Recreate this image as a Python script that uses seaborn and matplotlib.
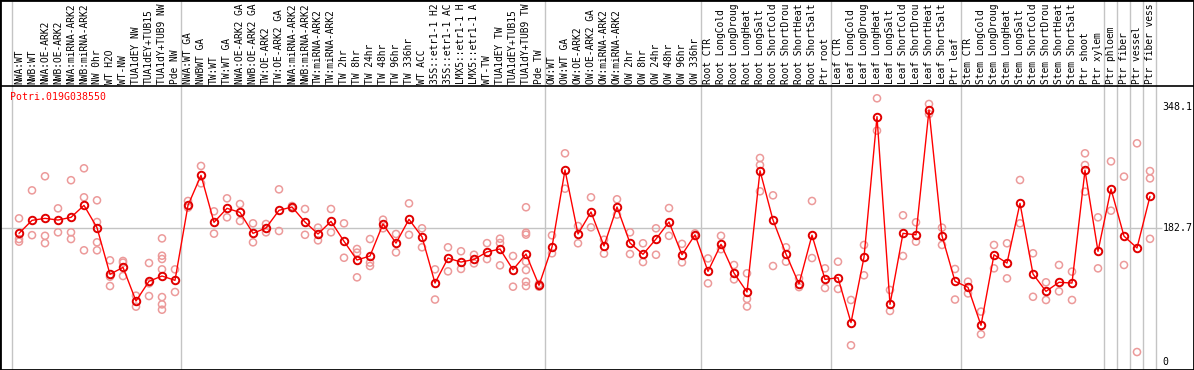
import matplotlib
matplotlib.use("Agg")
import matplotlib.pyplot as plt
import seaborn as sns
import pandas as pd

gene = "Potri.019G038550"

labels = [
    "NWA:WT", "NWB:WT", "NWA:OE-ARK2", "NWB:OE-ARK2", "NWA:miRNA-ARK2", "NWB:miRNA-ARK2",
    "NW 0hr", "WT H2O", "WT-NW", "TUA1dEY NW", "TUA1dEY+TUB15", "TUA1dY+TUB9 NW", "Pde NW",
    "NWA:WT GA", "NWBWT GA", "TW:WT", "TW:WT GA", "NWA:OE-ARK2 GA", "NWB:OE-ARK2 GA",
    "TW:OE-ARK2", "TW:OE-ARK2 GA", "NWA:miRNA-ARK2", "NWB:miRNA-ARK2", "TW:miRNA-ARK2",
    "TW:miRNA-ARK2", "TW 2hr", "TW 8hr", "TW 24hr", "TW 48hr", "TW 96hr", "TW 336hr", "WT ACC",
    "35S::etr1-1 H2", "35S::etr1-1 AC", "LMX5::etr1-1 H", "LMX5::etr1-1 A", "WT-TW",
    "TUA1dEY TW", "TUA1dEY+TUB15", "TUA1dY+TUB9 TW", "Pde TW",
    "OW:WT", "OW:WT GA", "OW:OE-ARK2", "OW:OE-ARK2 GA", "OW:miRNA-ARK2", "OW:miRNA-ARK2",
    "OW 2hr", "OW 8hr", "OW 24hr", "OW 48hr", "OW 96hr", "OW 336hr",
    "Root CTR", "Root LongCold", "Root LongDroug", "Root LongHeat", "Root LongSalt",
    "Root ShortCold", "Root ShortDrou", "Root ShortHeat", "Root ShortSalt", "Ptr root",
    "Leaf CTR", "Leaf LongCold", "Leaf LongDroug", "Leaf LongHeat", "Leaf LongSalt",
    "Leaf ShortCold", "Leaf ShortDrou", "Leaf ShortHeat", "Leaf ShortSalt", "Ptr leaf",
    "Stem CTR", "Stem LongCold", "Stem LongDroug", "Stem LongHeat", "Stem LongSalt",
    "Stem ShortCold", "Stem ShortDrou", "Stem ShortHeat", "Stem ShortSalt", "Ptr shoot",
    "Ptr xylem", "Ptr phloem", "Ptr fiber", "Ptr vessel", "Ptr fiber vess",
]

means = [
    175.6, 193.4, 196.1, 193.8, 197.5, 213.9, 183.4, 119.5, 129.1, 83.0, 110.0, 117.2, 111.3,
    213.9, 255.0, 190.7, 209.8, 204.3, 175.6, 182.9, 207.1, 211.7, 191.1, 174.7, 192.0, 164.7,
    139.1, 144.6, 188.4, 162.2, 194.8, 170.8, 107.6, 141.7, 136.3, 139.9, 150.1, 154.2, 125.8,
    147.3, 104.5,
    156.9, 262.3, 174.7, 204.8, 158.3, 211.7, 162.4, 146.9, 167.8, 191.1, 146.3, 173.6,
    123.6, 160.6, 121.3, 95.3, 261.3, 193.8, 147.3, 106.3, 173.1, 112.6,
    114.9, 53.4, 142.8, 335.3, 78.4, 175.6, 173.6, 344.4, 172.2, 110.0,
    101.7, 49.7, 146.3, 134.9, 216.7, 120.0, 96.2, 108.6, 107.6, 261.8, 151.0,
    236.3, 171.8, 155.6, 226.2,
]

replicates = [
    [196.1, 167.8, 164.2], [234.4, 173.1], [253.7, 172.2, 162.2], [209.8, 177.0],
    [248.3, 177.0, 167.8], [264.6, 224.9, 152.4], [220.8, 191.1, 163.3, 152.4],
    [138.7, 116.3, 103.5], [137.8, 135.5, 117.2], [90.3, 75.3], [135.0, 107.2, 89.8],
    [168.7, 145.0, 140.5, 126.3, 88.4, 78.4, 71.1], [126.3, 95.3],
    [219.9, 210.8], [267.8, 244.0], [205.7, 175.2], [223.5, 197.5], [215.7, 192.5],
    [189.3, 163.3], [188.4, 177.0], [235.8, 178.8], [213.0, 210.0], [208.9, 173.6],
    [183.4, 166.0], [208.9, 177.0], [189.3, 142.2], [154.2, 149.2, 115.4],
    [167.8, 135.5, 130.9], [194.3, 182.5], [174.7, 149.6], [216.6, 173.6], [182.5, 156.5],
    [126.3, 85.0], [156.5, 123.6], [151.1, 126.9], [146.3, 134.5], [162.2, 140.4],
    [168.3, 162.4, 131.8], [144.6, 102.6],
    [211.3, 176.5, 173.8, 136.8, 125.4, 109.5, 103.5], [106.3, 102.6],
    [172.9, 148.3], [285.1, 236.7], [185.6, 162.0], [224.9, 183.8], [166.9, 147.8],
    [222.2, 201.2], [177.0, 147.3], [162.0, 136.3], [182.5, 146.3], [210.2, 172.2],
    [161.2, 135.9], [175.6, 172.0],
    [141.3, 107.2], [172.2, 153.9], [132.3, 112.6], [120.9, 85.9, 75.5],
    [278.7, 269.1, 233.1], [227.6, 130.9], [156.5, 136.8], [114.0, 102.0],
    [219.9, 141.8], [127.7, 100.8],
    [136.8, 99.5], [84.4, 22.4], [159.7, 118.2], [360.4, 316.1], [98.1, 69.4],
    [200.3, 144.6], [190.7, 164.2], [352.6, 338.9], [183.4, 159.7], [126.8, 85.0],
    [109.5, 93.4], [68.5, 37.5], [159.7, 127.7], [162.0, 114.0], [248.6, 189.3],
    [148.3, 88.8], [108.6, 84.4], [132.3, 96.2], [123.2, 84.4], [285.1, 269.1, 232.7],
    [197.5, 127.7],
    [274.1, 206.6], [253.2, 132.3], [298.8, 13.2], [260.8, 250.8, 168.1],
]

group_bounds = [-0.5, 12.5, 40.5, 52.5, 62.5, 72.5, 83.5, 84.5, 85.5, 86.5, 87.5]
axis_ticks = [348.1, 182.7, 0]
axis_tick_labels = ["348.1", "182.7", "0"]

sns.set_theme(style="white")
plt.rcParams["font.family"] = ["DejaVu Sans Mono", "DejaVu Sans"]

mean_df = pd.DataFrame({"idx": range(len(means)), "value": means})
rep_rows = [(i, v) for i, vals in enumerate(replicates) for v in vals]
rep_df = pd.DataFrame(rep_rows, columns=["idx", "value"])

fig = plt.figure(figsize=(11.94, 3.70), dpi=100)
ax = fig.add_axes([0, 0, 1, 1])
ax.set_xlim(-1.4615, 90.385)
ax.set_ylim(-11.4, 494.9)
ax.set_xticks([])
ax.set_yticks([])
ax.set_facecolor("white")
for s in ax.spines.values():
    s.set_visible(True)
    s.set_color("black")
    s.set_linewidth(2)

grid_c = "#c4c4c4"
for b in group_bounds:
    ax.axvline(b, color=grid_c, lw=1, zorder=1)
ax.hlines(182.7, -1.5, 87.95, color=grid_c, lw=1, zorder=1)
ax.axhline(377.3, color="black", lw=1.2, zorder=2)

sns.scatterplot(data=rep_df, x="idx", y="value", ax=ax, marker="o", s=26,
                facecolors="none", edgecolor="#ec9a9a", linewidth=1.1, zorder=3,
                legend=False)
sns.lineplot(data=mean_df, x="idx", y="value", ax=ax, color="red", lw=1,
             marker="o", markersize=5.4, markerfacecolor="none",
             markeredgecolor="#e00000", markeredgewidth=1.4, sort=False,
             estimator=None, zorder=4, legend=False)
ax.set_xlabel("")
ax.set_ylabel("")

for i, lab in enumerate(labels):
    ax.text(i, 380.0, lab, rotation=90, ha="center", va="bottom",
            fontsize=6.9, color="black", zorder=5)

ax.text(-0.69, 362.2, gene, ha="left", va="center", fontsize=7.1, color="red", zorder=5)

for v, t in zip(axis_ticks, axis_tick_labels):
    ax.text(87.98, v, t, ha="left", va="center", fontsize=7.1, color="black", zorder=5)

fig.savefig("out.png", dpi=100)
